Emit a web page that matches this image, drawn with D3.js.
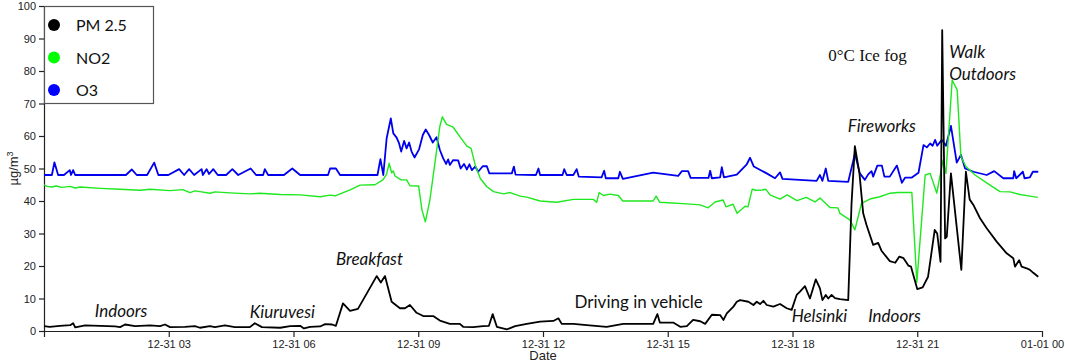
<!DOCTYPE html>
<html lang="en">
<head>
    <meta charset="UTF-8">
    <title>PM2.5, NO2 and O3 on 31 December</title>
    <script src="https://d3js.org/d3.v7.min.js"></script>
    <style>
        body { margin: 0; background: #fff; }
        .axis text { font-family: "Liberation Sans", Arial, sans-serif; font-size: 11px; fill: #222; }
        .axis path, .axis line { stroke: #222; stroke-width: 1.2; }
        .note { font-family: Lato, sans-serif; font-size: 17px; fill: #111; }
    </style>
</head>
<body>
<div id="chart"></div>
<script>
// series: [hours after 12-31 00:00, value µg/m3]
const pm25 = [
    [0,1.5],[0.14,1.3],[0.38,1.6],[0.63,1.8],[0.7,2.4],[0.75,1.1],[0.99,1.7],[1.35,1.6],[1.71,1.4],[1.83,1.2],
    [1.95,2.0],[2.19,1.5],[2.55,1.7],[2.79,1.5],[2.91,2.0],[3.03,1.2],[3.39,1.3],[3.63,1.5],[3.75,1.0],[3.99,1.5],
    [4.11,1.2],[4.35,1.7],[4.59,1.2],[4.95,1.2],[5.07,2.4],[5.24,1.2],[5.68,1.0],[5.92,1.5],[6.16,1.6],[6.25,0.8],
    [6.4,1.3],[6.64,1.4],[6.76,2.1],[6.93,2.0],[7.02,1.6],[7.19,8.5],[7.36,6.2],[7.55,6.8],[8.0,16.9],[8.1,14.9],
    [8.2,16.9],[8.36,9],[8.46,8],[8.56,7],[8.68,7],[8.8,8],[8.96,5.6],[9.12,4.6],[9.36,4.6],[9.52,3.2],
    [9.76,2.2],[10.0,2.2],[10.08,1.3],[10.32,1.2],[10.56,1.5],[10.7,1.6],[10.79,5.2],[10.89,1.3],[11.13,0.5],[11.33,1.5],
    [11.61,2.2],[11.93,2.9],[12.25,3.1],[12.37,3.9],[12.45,2.2],[12.73,2.2],[13.05,1.8],[13.53,1.3],[13.93,2.2],[14.65,2.2],
    [14.75,5.2],[14.81,2.6],[15.13,2.6],[15.3,1.3],[15.46,1.5],[15.61,3.4],[15.78,3.0],[15.9,2.2],[16.06,5.0],[16.26,4.9],
    [16.34,3.4],[16.42,5.4],[16.58,7.5],[16.66,9.0],[16.74,9.5],[16.94,9.0],[17.06,8.0],[17.14,9.0],[17.22,8.3],[17.3,9.3],
    [17.38,8.0],[17.54,7.5],[17.7,8.3],[17.86,7.0],[17.98,6.5],[18.1,11.1],[18.18,12.1],[18.3,13.8],[18.42,10.0],[18.56,15.9],
    [18.66,13.1],[18.72,9.5],[18.8,11.1],[18.86,10.0],[18.94,11.1],[19.02,10.1],[19.14,9.8],[19.34,9.5],[19.42,39.3],[19.5,56.9],
    [19.61,48.5],[19.7,36.2],[19.78,32.6],[19.94,26.5],[20.06,27.1],[20.14,24.7],[20.34,21.5],[20.47,21.0],[20.57,22.9],[20.67,22.4],
    [20.79,20.1],[20.85,19.8],[21.0,12.9],[21.13,13.4],[21.26,16.7],[21.42,31.1],[21.48,30.0],[21.56,21.3],[21.6,92.6],[21.67,28.5],
    [21.71,29.0],[21.81,48.5],[22.06,18.8],[22.17,49.0],[22.26,40.5],[22.35,38.8],[22.51,34.7],[22.67,31.6],[22.91,27.5],[23.15,23.9],
    [23.31,22.4],[23.35,19.8],[23.45,21.8],[23.51,19.8],[23.63,19.3],[23.71,18.8],[23.79,17.9],[23.91,16.7]
];

const no2 = [
    [0,45],[0.07,44.5],[0.19,44.3],[0.29,44.6],[0.43,44.2],[0.63,44.5],[0.75,44.0],[0.87,44.3],[1.35,43.9],[1.83,43.6],
    [2.31,43.3],[2.55,43.6],[3.03,43.2],[3.34,43.5],[3.51,42.6],[3.63,43.1],[3.75,42.9],[3.99,42.4],[4.11,42.8],[4.47,42.5],
    [4.95,42.2],[5.19,42.4],[5.68,42],[6.16,41.9],[6.64,41.3],[6.88,41.8],[7.0,41.6],[7.36,43.4],[7.6,44.9],[7.96,45],
    [8.15,46.5],[8.24,48.3],[8.3,51.6],[8.36,48.7],[8.4,49.2],[8.44,47.7],[8.59,46.5],[8.72,46.5],[8.8,44.7],[9.01,44.6],
    [9.09,37.2],[9.17,33.6],[9.28,40.3],[9.4,51.6],[9.52,63],[9.58,65.9],[9.68,63.6],[9.84,62.7],[10.0,59.8],[10.17,56.9],
    [10.27,56.2],[10.37,51.1],[10.49,47],[10.65,44.4],[10.81,42.9],[11.05,42.2],[11.21,42.6],[11.45,41.5],[11.61,41.2],[11.93,40],
    [12.33,39.6],[12.73,40.5],[13.21,40.5],[13.29,39.6],[13.35,42.6],[13.45,41.7],[13.61,42.1],[13.81,41.7],[13.92,40],[14.65,40],
    [14.72,41.5],[14.81,39.6],[15.46,39.1],[15.78,38.8],[15.97,37.9],[16.14,39.7],[16.33,40.3],[16.4,38.2],[16.57,39],[16.67,36.2],
    [16.86,38.4],[16.93,38.2],[17.03,43.6],[17.12,43.3],[17.27,43.4],[17.36,43.6],[17.46,41.9],[17.7,40.6],[17.87,41.9],[18.11,40.1],
    [18.33,41.1],[18.54,39.7],[18.66,40.9],[18.9,38],[19.09,37.9],[19.14,36.2],[19.38,34.2],[19.5,31.1],[19.66,39.3],[19.86,40.6],
    [20.1,41.3],[20.35,42.4],[20.54,42.6],[20.87,42.6],[20.99,15],[21.19,48],[21.31,48.5],[21.47,42.4],[21.62,52.6],[21.69,48.5],
    [21.84,77.2],[21.96,74.2],[22.05,53.6],[22.17,50.6],[22.39,48],[22.75,44.9],[22.99,42.9],[23.23,42.8],[23.47,42],[23.71,41.5],
    [23.9,41.1]
];

const o3 = [
    [0,48],[0.19,48],[0.25,51.9],[0.34,48],[0.48,48],[0.62,49.5],[0.65,48],[0.7,49.5],[0.75,48],[1.97,48],
    [2.11,49.7],[2.23,48],[2.48,48],[2.65,51.8],[2.75,48],[2.99,48],[3.25,49.8],[3.37,48],[3.49,49.8],[3.61,48],
    [3.79,49.8],[3.82,48],[3.91,49.8],[3.97,48.3],[4.07,49.8],[4.18,48],[4.38,48],[4.53,49.8],[4.67,48],[4.97,50],
    [5.1,48],[5.27,48],[5.31,49.8],[5.39,48],[5.77,48],[5.97,50],[6.16,48],[6.83,48],[6.88,50],[7.02,50],
    [7.12,48],[8.02,48],[8.09,52.9],[8.16,48],[8.24,59.3],[8.34,65.4],[8.4,60.8],[8.48,59.5],[8.54,57.7],[8.59,55.2],
    [8.66,58.5],[8.72,56.2],[8.78,58],[8.84,55.2],[8.91,53.4],[9.02,55.9],[9.11,60.3],[9.18,62],[9.26,60.3],[9.35,58],
    [9.44,59.6],[9.52,55.7],[9.6,53.1],[9.67,51.4],[9.72,52.8],[9.76,51.1],[9.84,52.6],[9.96,52.5],[10.02,50],[10.1,51.4],
    [10.17,49.7],[10.23,51.3],[10.29,49.5],[10.37,50.6],[10.44,49],[10.55,50.7],[10.65,50.7],[10.71,48.5],[11.25,48.5],[11.3,50.6],
    [11.34,48.1],[11.83,48],[11.89,50],[11.93,48],[12.47,48],[12.51,49.8],[12.57,48],[12.73,48],[12.81,49.8],[12.86,47.5],
    [13.41,47.3],[13.47,49.3],[13.51,47],[13.81,47],[13.85,49],[13.92,46.8],[14.65,48.7],[15.25,47.7],[15.34,49.2],[15.49,49.2],
    [15.55,47.1],[15.98,47.1],[16.02,49.3],[16.06,47],[16.26,47.3],[16.3,50.4],[16.35,47.3],[16.66,48.1],[16.9,51.3],[16.98,53.3],
    [17.07,50.6],[17.38,48.5],[17.58,47],[17.7,48.8],[17.76,46.8],[18.58,46.2],[18.66,48],[18.72,46.2],[18.8,50],[18.86,46.2],
    [19.34,45.9],[19.5,54.5],[19.62,48.5],[19.74,46.5],[19.82,48.2],[19.9,49.2],[19.94,47.5],[20.04,50.9],[20.15,50.9],[20.21,47.5],
    [20.34,47.5],[20.51,50.9],[20.63,45.6],[20.71,47.2],[20.87,47.2],[21.03,48.7],[21.15,57.2],[21.23,56.5],[21.31,57.7],[21.37,57],
    [21.43,58.8],[21.48,57],[21.59,58.8],[21.69,57],[21.81,63.1],[21.95,51.8],[22.05,54.2],[22.15,50],[22.35,49],[22.67,48],
    [22.85,49.2],[23.07,47],[23.31,47],[23.33,49.2],[23.38,47],[23.54,49],[23.58,47],[23.71,47.3],[23.78,49],[23.91,49]
];

const seriesNames = ["PM 2.5", "NO2", "O3"];
const seriesColors = ["#000000", "#1ee81e", "#0000ee"];
const legendColors = ["#000000", "#00ff00", "#0000ff"];
const yTicks = [0, 10, 20, 30, 40, 50, 60, 70, 80, 90, 100];

// [text, hour, value, style]
const notes = [
    ["Indoors", 1.22, 4.4, "italic"],
    ["Kiuruvesi", 4.95, 4.0, "italic"],
    ["Breakfast", 7.02, 20.3, "italic"],
    ["Driving in vehicle", 12.76, 7.1, "normal"],
    ["Helsinki", 17.98, 2.9, "italic"],
    ["Indoors", 19.82, 2.9, "italic"],
    ["Fireworks", 19.33, 61.3, "italic"],
    ["Walk", 21.77, 83.9, "italic"],
    ["Outdoors", 21.77, 77.2, "italic"]
];
const fogNote = ["0°C Ice fog", 18.86, 83.1];

const W = 1065, H = 364;
const margin = { top: 6, right: 23, bottom: 33, left: 44 };
const width = W - margin.left - margin.right;
const height = H - margin.top - margin.bottom;

const t0 = new Date(2019, 11, 31, 0, 0);
const toDate = h => new Date(t0.getTime() + h * 3600e3);

const svg = d3.select("#chart").append("svg")
    .attr("width", W)
    .attr("height", H);

const g = svg.append("g")
    .attr("transform", `translate(${margin.left},${margin.top})`);

const x = d3.scaleTime().domain([t0, toDate(24)]).range([0, width]);
const y = d3.scaleLinear().domain([0, 100]).range([height, 0]);

// axes
const fmt = d3.timeFormat("%m-%d %H");
g.append("g")
    .attr("class", "axis")
    .attr("transform", `translate(0,${height})`)
    .call(d3.axisBottom(x)
        .tickValues(d3.range(0, 25, 3).map(toDate))
        .tickSize(6)
        .tickSizeOuter(0)
        .tickFormat((d, i) => i === 0 ? "" : fmt(d)));

g.append("g")
    .attr("class", "axis")
    .call(d3.axisLeft(y).tickValues(yTicks).tickSize(5).tickSizeOuter(0));

svg.append("text")
    .attr("x", margin.left + width / 2)
    .attr("y", 360)
    .attr("text-anchor", "middle")
    .style("font-family", "Liberation Sans, Arial, sans-serif")
    .style("font-size", "13px")
    .style("fill", "#222")
    .text("Date");

const ylab = svg.append("text")
    .attr("transform", `translate(18,${margin.top + height / 2}) rotate(-90)`)
    .attr("text-anchor", "middle")
    .style("font-family", "Liberation Sans, Arial, sans-serif")
    .style("font-size", "13px")
    .style("fill", "#222");
ylab.append("tspan").text("µg/m");
ylab.append("tspan").attr("dy", -5).style("font-size", "9px").text("3");

// lines
const line = d3.line()
    .x(d => x(toDate(d[0])))
    .y(d => y(d[1]));

const drawOrder = [[o3, 2, 1.8], [no2, 1, 1.4], [pm25, 0, 1.8]];
drawOrder.forEach(([data, i, sw]) => {
    g.append("path")
        .datum(data)
        .attr("d", line)
        .style("fill", "none")
        .style("stroke", seriesColors[i])
        .style("stroke-width", sw)
        .style("stroke-linejoin", "round");
});

// annotations
notes.forEach(n => {
    g.append("text")
        .attr("class", "note")
        .attr("x", x(toDate(n[1])))
        .attr("y", y(n[2]))
        .style("font-style", n[3])
        .text(n[0]);
});
g.append("text")
    .attr("x", x(toDate(fogNote[1])))
    .attr("y", y(fogNote[2]))
    .style("font-family", "Liberation Serif, serif")
    .style("font-size", "17px")
    .style("fill", "#111")
    .text(fogNote[0]);

// legend
const leg = g.append("g");
leg.append("rect")
    .attr("x", 0.5).attr("y", 0.5)
    .attr("width", 109).attr("height", 97)
    .style("fill", "#fff")
    .style("stroke", "#555")
    .style("stroke-width", 1.2);
seriesNames.forEach((name, i) => {
    const cy = 19 + i * 32.5;
    leg.append("circle")
        .attr("cx", 10).attr("cy", cy).attr("r", 6)
        .style("fill", legendColors[i]);
    leg.append("text")
        .attr("x", 32).attr("y", cy + 6)
        .style("font-family", "Lato, sans-serif")
        .style("font-size", "16px")
        .style("fill", "#111")
        .text(name);
});
</script>
</body>
</html>
